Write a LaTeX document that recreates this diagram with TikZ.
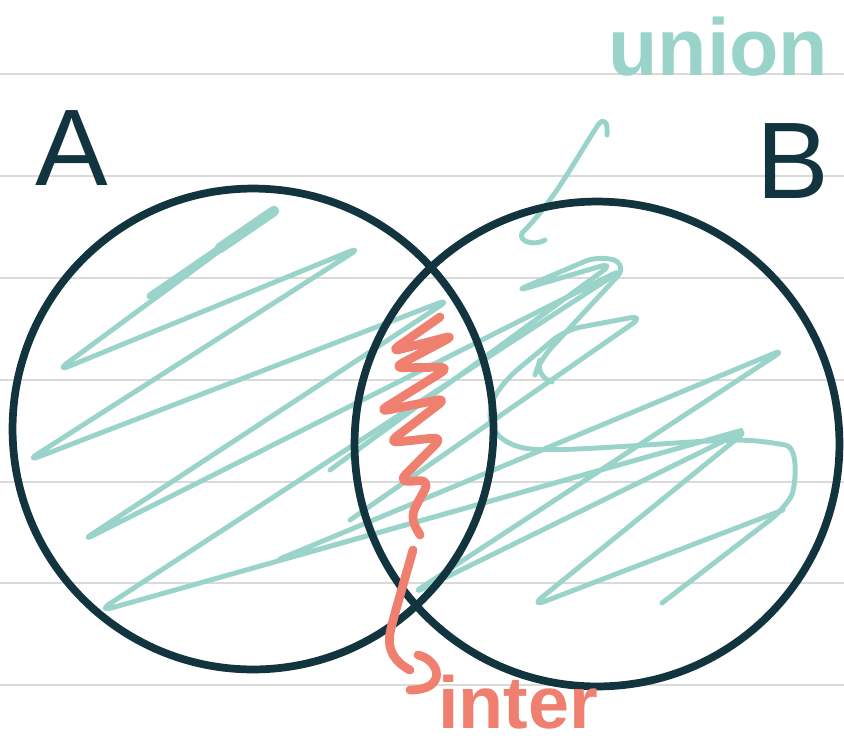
\documentclass[tikz,border=0pt]{standalone}
\usepackage{fontspec}
\setmainfont{Liberation Sans}
\definecolor{inkdark}{HTML}{12343F}
\definecolor{inkteal}{HTML}{9AD3C9}
\definecolor{inkred}{HTML}{EF8070}
\definecolor{rulegray}{HTML}{DADADA}
\begin{document}
\begin{tikzpicture}[x=0.02cm,y=-0.02cm,
  rule/.style={draw=rulegray,line width=1.1pt},
  ring/.style={circle,draw=inkdark,line width=4.4pt,inner sep=0pt},
  scribT/.style={draw=inkteal,line width=2.8pt,line cap=round,line join=round,rounded corners=9pt},
  scribR/.style={draw=inkred,line width=5pt,line cap=round,line join=round,rounded corners=6pt},
  letter/.style={inner sep=0pt,anchor=base,text=inkdark,font=\fontsize{62}{62}\selectfont},
  word/.style={inner sep=0pt,anchor=base west,font=\fontsize{46}{46}\selectfont\bfseries}]
\useasboundingbox (0,0) rectangle (844,744);
\fill[white] (0,0) rectangle (844,744);
% ruled lines
\foreach \yy in {74,176,278,380,482,583,685}
  \draw[rule] (0,\yy) -- (844,\yy);
% teal scribble
\draw[draw=inkteal,line width=6pt,line cap=round] (274,211) -- (220,248);
\draw[draw=inkteal,line width=4pt,line cap=round] (220,248) -- (150,296);
\draw[scribT] (275,210) -- (55,372) -- (363,246) -- (25,462) -- (452,298) -- (80,542)
  -- (625,268) -- (97,612) -- (750,428) -- (270,563) -- (787,348) -- (410,595)
  -- (750,428) -- (530,607) -- (783,510);
\draw[scribT] (330,470) -- (615,262) -- (513,292) -- (600,255) -- (628,265) -- (540,360)
  -- (535,375) -- (552,382);
\draw[scribT] (350,520) -- (645,315) -- (565,330) -- (505,380)
  .. controls (480,420) and (495,448) .. (553,450)
  .. controls (650,446) and (720,438) .. (770,442)
  .. controls (800,448) and (795,490) .. (783,510) -- (662,603);
% hook from union
\draw[scribT,rounded corners=0pt] (607,135) .. controls (608,122) and (604,117) .. (598,125)
  .. controls (575,160) and (555,200) .. (522,233)
  .. controls (518,242) and (535,246) .. (545,240);
% circles
\node[ring,minimum size=9.62cm] (circA) at (253,429) {};
\node[ring,minimum size=9.7cm] (circB) at (597,444) {};
% red scribble
\draw[scribR] (440,317) -- (390,352) -- (455,335) -- (393,368) -- (450,367) -- (378,412)
  -- (447,398) -- (388,443) -- (443,437) -- (398,482) -- (430,480) -- (410,517) -- (420,535);
\draw[scribR] (413,550) -- (393,620) .. controls (386,650) and (395,662) .. (410,670);
\draw[scribR,rounded corners=0pt] (418,655) .. controls (440,660) and (448,690) .. (410,690);
% labels
\node[letter] (labA) at (72,185) {A};
\node[letter] (labB) at (793,198) {B};
\node[word,text=inkteal] (labU) at (608,75) {union};
\node[word,text=inkred,font=\fontsize{42}{42}\selectfont\bfseries] (labI) at (438,728) {inter};
\end{tikzpicture}
\end{document}
